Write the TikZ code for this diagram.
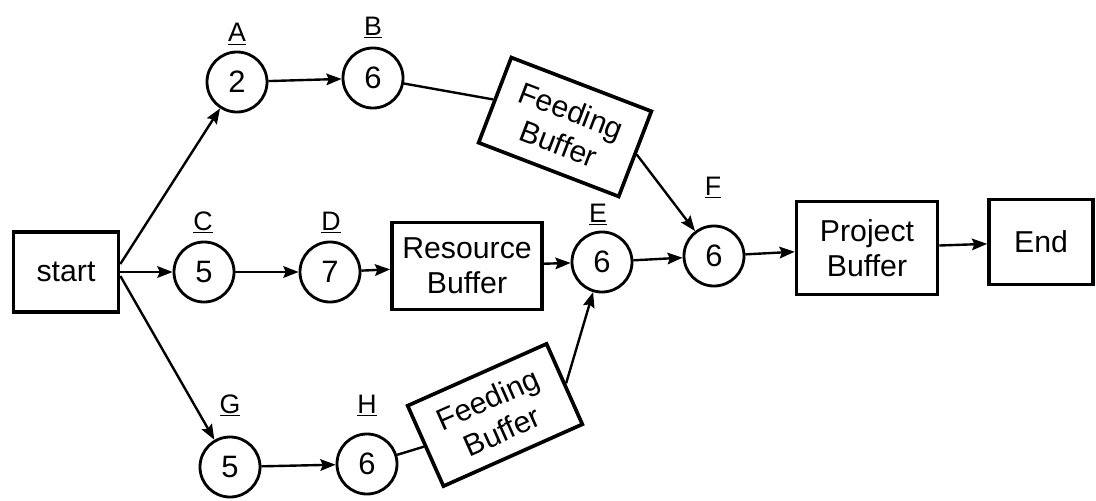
\documentclass[tikz,border=0pt]{standalone}
\usepackage{fontspec}
\setmainfont{Liberation Sans}
\usetikzlibrary{arrows.meta}
\tikzset{
  act/.style={circle,draw,line width=2pt,minimum size=1.5cm,inner sep=0pt,font=\fontsize{22}{26}\selectfont},
  boxnode/.style={rectangle,draw,line width=2.6pt,fill=white,align=center,inner sep=2pt,font=\fontsize{21.5}{25}\selectfont},
  tag/.style={anchor=base,inner sep=0pt,font=\fontsize{19}{22}\selectfont},
  conn/.style={line width=1.7pt,-{Stealth[length=3.8mm,width=2.9mm,inset=0.6mm]}},
  plain/.style={line width=1.7pt}
}
\begin{document}
\begin{tikzpicture}[x=0.025cm,y=-0.025cm]
\useasboundingbox (0,0) rectangle (1096,500);
\fill[white] (0,0) rectangle (1096,500);
% boxes
\node[boxnode,minimum width=2.625cm,minimum height=2cm] (start) at (66,272) {start};
\node[boxnode,minimum width=3.75cm,minimum height=2.18cm] (RB) at (467,266) {Resource\\Buffer};
\node[boxnode,minimum width=3.52cm,minimum height=2.32cm] (PB) at (867,248) {Project\\Buffer};
\node[boxnode,minimum width=2.6cm,minimum height=2.12cm] (End) at (1041,242) {End};
\node[boxnode,minimum width=3.75cm,minimum height=2.28cm,rotate=-21] (FB1) at (565,127) {Feeding\\Buffer};
\node[boxnode,minimum width=3.8cm,minimum height=2.2cm,rotate=24] (FB2) at (495,415) {Feeding\\Buffer};
% activities
\node[act] (A) at (237,82) {2};
\node[act] (B) at (373,78) {6};
\node[act] (C) at (204,272) {5};
\node[act] (D) at (330,272) {7};
\node[act] (E) at (602,262) {6};
\node[act] (F) at (714,256) {6};
\node[act] (G) at (230,467) {5};
\node[act] (H) at (367,464) {6};
% labels
\node[tag] (lA) at (237,42) {\underline{A}};
\node[tag] (lB) at (373,35) {\underline{B}};
\node[tag] (lC) at (203,230) {\underline{C}};
\node[tag] (lD) at (331,230) {\underline{D}};
\node[tag] (lE) at (598,222) {\underline{E}};
\node[tag] (lF) at (713,195) {\underline{F}};
\node[tag] (lG) at (230,413) {\underline{G}};
\node[tag] (lH) at (367,413) {\underline{H}};
% connectors
\draw[conn] ([yshift=0.2cm]start.east) -- (A);
\draw[conn] (start.east) -- (C);
\draw[conn] ([yshift=-0.1cm]start.east) -- (G);
\draw[conn] (A) -- (B);
\draw[plain] (B) -- (FB1.west);
\draw[conn] (FB1.east) -- (F);
\draw[conn] (C) -- (D);
\draw[conn] (D) -- (RB);
\draw[conn] (RB) -- (E);
\draw[conn] (E) -- (F);
\draw[conn] (F) -- (PB);
\draw[conn] (PB) -- (End);
\draw[conn] (G) -- (H);
\draw[plain] (H) -- (FB2.west);
\draw[conn] (FB2.east) -- (E);
\end{tikzpicture}
\end{document}
